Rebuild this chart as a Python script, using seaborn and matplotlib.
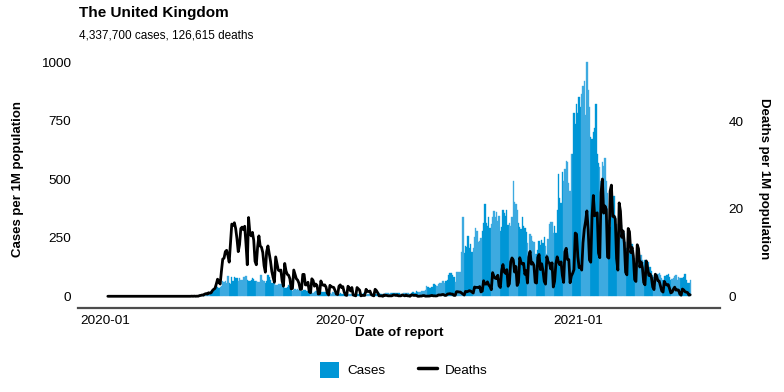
import numpy as np
import pandas as pd
import matplotlib
matplotlib.use("Agg")
import matplotlib.pyplot as plt
import matplotlib.dates as mdates
from matplotlib.patches import Patch
from matplotlib.lines import Line2D
import seaborn as sns

# ---------------- data (per 1M population, daily, by date of report) -------------
start_date = "2020-01-03"
title = "The United Kingdom"
subtitle = "4,337,700 cases, 126,615 deaths"
legend_labels = ["Cases", "Deaths"]
x_ticks = ["2020-01-01", "2020-07-01", "2021-01-01"]
y_ticks_cases = [0, 250, 500, 750, 1000]
y_ticks_deaths = [0, 20, 40]

cases_2020_jan = [0] * 28 + [0.03]
cases_2020_feb = [0, 0, 0, 0, 0, 0.01, 0, 0, 0, 0.06, 0.01, 0, 0.01, 0, 0, 0, 0, 0, 0, 0, 0, 0, 0,
                  0.06, 0, 0.03, 0.03, 0.07, 0.04]
cases_2020_mar = [0.18, 0.06, 0.16, 0.5, 0.43, 0.71, 0.66,
                  0.99, 0.71, 0.77, 1.22, 1.97, 3.06, 5.04,
                  3.7, 2.24, 5.99, 9.96, 9.47, 10.5, 15.2,
                  9.8, 14.2, 21.0, 21.4, 31.4, 42.5, 37.5,
                  35.8, 38.6, 44.3]
cases_2020_apr = [63.7, 62.5, 65.5, 55.0, 86.9, 56.0, 53.5,
                  80.9, 64.0, 84.0, 77.1, 77.9, 63.9, 77.4,
                  67.8, 68.0, 82.5, 81.4, 86.2, 68.9, 63.3,
                  65.6, 67.5, 79.3, 72.4, 65.7, 63.5, 58.9,
                  60.0, 88.8]
cases_2020_may = [91.3, 70.8, 63.9, 58.7, 64.9, 90.0, 82.7,
                  68.5, 57.4, 57.8, 57.1, 50.1, 47.7, 50.8,
                  52.4, 50.8, 52.0, 39.5, 35.5, 36.4, 38.5,
                  48.4, 43.6, 35.5, 23.9, 27.8, 29.6, 27.8,
                  30.9, 28.5, 28.5]
cases_2020_jun = [23.1, 24.3, 27.6, 26.6, 24.3, 22.9, 19.5,
                  17.7, 20.4, 14.8, 18.6, 22.7, 21.0, 22.3,
                  15.6, 18.8, 16.4, 17.9, 19.8, 19.1, 18.0,
                  14.1, 12.9, 9.6, 16.5, 20.3, 13.1, 13.3,
                  12.0, 10.1]
cases_2020_jul = [12.2, 8.5, 9.2, 9.0, 7.6, 5.2, 8.6,
                  9.2, 9.1, 9.5, 12.0, 9.5, 7.3, 8.8,
                  8.7, 9.6, 10.4, 10.5, 12.0, 8.1, 6.8,
                  8.9, 11.2, 11.2, 11.7, 11.4, 7.7, 11.6,
                  11.5, 12.2, 12.9]
cases_2020_aug = [11.1, 11.0, 10.7, 9.6, 13.2, 13.1, 12.7,
                  11.0, 12.0, 12.2, 15.3, 15.5, 12.8, 14.6,
                  15.7, 14.7, 10.7, 10.3, 11.9, 14.0, 14.8,
                  16.0, 14.8, 11.6, 13.0, 18.5, 17.9, 15.2,
                  21.3, 19.8, 16.9]
cases_2020_sep = [19.1, 21.2, 24.2, 23.5, 26.7, 43.4, 39.1,
                  37.3, 37.4, 41.4, 51.1, 51.5, 48.4, 43.5,
                  50.5, 58.8, 55.1, 63.7, 66.1, 57.4, 63.4,
                  70.2, 91.0, 97.7, 101.2, 89.0, 83.8, 59.6,
                  105.2, 104.7]
cases_2020_oct = [101.8, 102.6, 189.6, 338.2, 185.5, 214.2, 208.6,
                  258.3, 204.2, 223.4, 189.6, 205.8, 253.8, 290.5,
                  279.5, 230.5, 238.2, 250.1, 276.9, 314.2, 393.0,
                  312.8, 302.4, 338.9, 291.5, 307.7, 337.0, 363.8,
                  339.7, 359.4, 322.8]
cases_2020_nov = [342.5, 279.1, 294.8, 370.8, 355.5, 343.0, 367.6,
                  303.0, 314.4, 300.6, 338.0, 492.9, 402.1, 395.6,
                  367.6, 314.6, 295.3, 288.8, 337.5, 298.3, 292.7,
                  274.8, 227.5, 166.4, 268.2, 258.5, 236.0, 233.7,
                  179.0, 181.6]
cases_2020_dec = [197.8, 238.1, 219.1, 240.0, 228.8, 254.4, 216.8,
                  180.9, 244.2, 308.7, 319.2, 316.7, 271.7, 298.4,
                  271.7, 370.6, 521.1, 419.8, 398.4, 529.1, 491.4,
                  542.0, 577.9, 574.9, 482.0, 449.2, 609.5, 609.5,
                  782.5, 736.7, 823.1]
cases_2021_jan = [784.8, 850.1, 809.9, 865.7, 897.1, 917.9, 774.9,
                  1002.3, 882.7, 809.1, 680.0, 670.6, 699.9, 717.0,
                  821.2, 608.9, 568.5, 552.8, 491.2, 573.0, 558.1,
                  592.9, 494.1, 441.9, 326.9, 295.9, 372.7, 422.4,
                  428.3, 342.8, 310.6]
cases_2021_feb = [274.0, 248.0, 282.8, 303.9, 281.5, 269.0, 233.4,
                  207.7, 182.1, 191.6, 198.7, 223.0, 196.0, 161.6,
                  143.8, 156.5, 187.3, 177.6, 177.1, 153.3, 144.8,
                  156.7, 125.0, 146.4, 147.1, 125.5, 109.5, 88.9]
cases_2021_mar = [80.3, 94.1, 84.9, 96.8, 99.5, 89.0, 76.2,
                  69.4, 84.9, 87.3, 92.9, 97.3, 81.5, 68.0,
                  74.9, 78.0, 84.8, 92.8, 70.7, 82.3, 78.2,
                  78.7, 79.2, 82.5, 94.2, 69.4, 56.9, 56.9,
                  68.5]

deaths_2020_jan = [0] * 29
deaths_2020_feb = [0] * 29
deaths_2020_mar = [0, 0, 0, 0, 0.02, 0.01, 0,
                   0.03, 0, 0.04, 0, 0.03, 0.02, 0.15,
                   0.2, 0.3, 0.25, 0.5, 0.6, 0.5, 0.8,
                   0.7, 0.8, 1.3, 1.6, 1.8, 2.8, 3.9,
                   3.2, 2.8, 5.8]
deaths_2020_apr = [8.5, 8.7, 10.2, 10.5, 9.3, 7.8, 12.0,
                   16.5, 16.2, 16.8, 15.5, 13.2, 10.2, 11.8,
                   15.5, 15.8, 15.2, 16.0, 12.0, 7.2, 18.0,
                   14.5, 13.8, 14.6, 12.8, 8.0, 7.2, 11.3,
                   13.8, 11.5]
deaths_2020_may = [11.2, 10.0, 7.0, 5.5, 10.2, 11.5, 9.7,
                   8.0, 5.7, 4.3, 3.2, 9.0, 7.5, 6.0,
                   5.8, 6.0, 3.5, 2.3, 7.5, 5.8, 5.0,
                   4.8, 4.0, 1.7, 1.8, 6.0, 5.0, 4.0,
                   3.7, 3.0, 1.6]
deaths_2020_jun = [1.6, 5.0, 5.0, 2.6, 2.6, 3.2, 1.0,
                   0.8, 4.0, 3.6, 2.3, 2.8, 2.5, 0.5,
                   0.6, 3.5, 2.7, 2.5, 2.6, 2.1, 0.7,
                   0.3, 2.5, 2.2, 2.1, 2.0, 1.3, 0.5,
                   0.4, 2.3]
deaths_2020_jul = [2.6, 2.0, 2.2, 1.0, 0.3, 0.2, 2.3,
                   1.9, 1.2, 2.0, 0.3, 0.2, 0.1, 2.0,
                   1.7, 1.4, 0.1, 0.2, 0.2, 0.2, 1.6,
                   1.1, 1.1, 1.2, 0.4, 0.2, 0.1, 1.6,
                   1.3, 0.8, 0.1]
deaths_2020_aug = [0.1, 0.1, 0.0, 0.3, 0.2, 0.2, 0.1,
                   0.1, 0.1, 0.1, 0.3, 0.3, 0.2, 0.3,
                   0.1, 0.1, 0.1, 0.3, 0.2, 0.1, 0.3,
                   0.1, 0.1, 0.0, 0.3, 0.3, 0.2, 0.2,
                   0.2, 0.0, 0.0]
deaths_2020_sep = [0.05, 0.05, 0.15, 0.15, 0.03, 0.03, 0.03,
                   0.05, 0.12, 0.2, 0.1, 0.1, 0.07, 0.1,
                   0.3, 0.3, 0.3, 0.4, 0.4, 0.2, 0.2,
                   0.5, 0.55, 0.6, 0.5, 0.5, 0.2, 0.2,
                   1.05, 1.05]
deaths_2020_oct = [0.97, 0.97, 0.72, 0.49, 0.28, 1.12, 1.03,
                   1.13, 1.28, 1.19, 0.96, 0.74, 2.11, 2.02,
                   2.03, 2.0, 2.21, 0.99, 1.18, 3.55, 2.81,
                   2.78, 3.30, 2.56, 2.22, 1.50, 5.40, 4.57,
                   4.12, 4.04, 4.80]
deaths_2020_nov = [2.39, 2.0, 5.85, 7.25, 5.57, 5.23, 6.08,
                   2.30, 2.86, 7.84, 8.76, 8.29, 5.54, 6.80,
                   2.47, 3.14, 8.81, 7.79, 7.38, 7.53, 5.02,
                   5.86, 3.03, 8.95, 10.25, 7.33, 7.67, 7.05,
                   3.17, 3.02]
deaths_2020_dec = [8.88, 9.54, 6.10, 7.42, 5.85, 3.40, 2.78,
                   9.07, 7.85, 7.60, 6.24, 7.64, 2.12, 3.42,
                   7.45, 9.01, 7.84, 7.20, 7.86, 4.80, 3.17,
                   10.18, 10.96, 8.39, 8.39, 3.09, 4.65, 5.26,
                   6.10, 14.45, 14.20]
deaths_2021_jan = [9.03, 6.55, 6.69, 5.99, 12.22, 15.33, 17.11,
                   19.51, 15.24, 8.29, 7.79, 18.31, 23.03, 18.38,
                   18.85, 19.07, 9.88, 8.82, 23.71, 26.80, 19.00,
                   20.63, 19.85, 8.98, 8.72, 24.02, 25.40, 18.25,
                   18.34, 17.67, 8.65]
deaths_2021_feb = [5.98, 21.34, 19.47, 13.48, 14.93, 12.19, 5.49,
                   4.90, 15.49, 14.74, 9.99, 11.16, 9.15, 3.80,
                   3.39, 11.77, 10.87, 6.69, 7.85, 6.55, 3.17,
                   2.62, 8.07, 6.51, 4.76, 5.08, 4.27, 2.12]
deaths_2021_mar = [1.53, 5.05, 4.64, 3.56, 3.48, 2.33, 1.21,
                   0.96, 3.40, 2.80, 2.58, 2.67, 1.78, 0.77,
                   0.94, 1.62, 2.08, 1.40, 1.49, 1.41, 0.49,
                   0.25, 1.65, 1.44, 1.03, 0.93, 0.85, 0.28,
                   0.34]

cases = (cases_2020_jan + cases_2020_feb + cases_2020_mar + cases_2020_apr + cases_2020_may
         + cases_2020_jun + cases_2020_jul + cases_2020_aug + cases_2020_sep + cases_2020_oct
         + cases_2020_nov + cases_2020_dec + cases_2021_jan + cases_2021_feb + cases_2021_mar)
deaths = (deaths_2020_jan + deaths_2020_feb + deaths_2020_mar + deaths_2020_apr + deaths_2020_may
          + deaths_2020_jun + deaths_2020_jul + deaths_2020_aug + deaths_2020_sep + deaths_2020_oct
          + deaths_2020_nov + deaths_2020_dec + deaths_2021_jan + deaths_2021_feb + deaths_2021_mar)
assert len(cases) == len(deaths), (len(cases), len(deaths))

# ---------------- styling ----------------
COL_DARK = "#0096D6"
COL_LIGHT = "#3DAAE0"

sns.set_theme(style="white")
plt.rcParams["font.family"] = ["Liberation Sans", "DejaVu Sans"]
plt.rcParams["text.color"] = "black"
plt.rcParams["axes.labelcolor"] = "black"
plt.rcParams["xtick.color"] = "black"
plt.rcParams["ytick.color"] = "black"

dates = pd.date_range(start_date, periods=len(cases), freq="D")
df = pd.DataFrame({
    "date": mdates.date2num(dates),
    "cases": cases,
    "deaths": deaths,
})
monday0 = pd.Timestamp("2019-12-30")
df["week"] = (((dates - monday0).days // 7) % 2).astype(str)

fig = plt.figure(figsize=(7.84, 3.92), dpi=100)
ax = fig.add_axes([78 / 784, 84 / 392, 642 / 784, 258 / 392])

sns.barplot(data=df, x="date", y="cases", hue="week", palette={"0": COL_DARK, "1": COL_LIGHT},
            native_scale=True, width=1.0, dodge=False, errorbar=None, legend=False,
            saturation=1, linewidth=0, ax=ax)
for p in ax.patches:
    p.set_edgecolor(p.get_facecolor())
    p.set_linewidth(0.25)

ax2 = ax.twinx()
sns.lineplot(x=df["date"], y=df["deaths"], color="black", linewidth=2.0, ax=ax2)

# scales
cmax = max(cases)
dmax = max(deaths)
ratio = cmax / dmax / 2.0
x0, x1 = df["date"].min() - 0.5, df["date"].max() + 0.5
span = x1 - x0
ax.set_xlim(x0 - 0.05 * span, x1 + 0.05 * span)
ylo, yhi = -0.05 * cmax, cmax * 1.05
ax.set_ylim(ylo, yhi)
ax2.set_ylim(ylo / ratio, yhi / ratio)

ax.set_xticks(mdates.date2num(pd.to_datetime(x_ticks)))
ax.xaxis.set_major_formatter(mdates.DateFormatter("%Y-%m"))
ax.set_yticks(y_ticks_cases)
ax2.set_yticks(y_ticks_deaths)

for a in (ax, ax2):
    for s in a.spines.values():
        s.set_visible(False)
ax.spines["bottom"].set_visible(True)
ax.spines["bottom"].set_color("#4d4d4d")
ax.spines["bottom"].set_linewidth(1.6)

ax.tick_params(axis="both", length=0, labelsize=9.7, colors="black")
ax.tick_params(axis="x", pad=5)
ax.tick_params(axis="y", pad=5)
ax2.tick_params(axis="y", length=0, labelsize=9.7, pad=6, colors="black")
ax.grid(False)
ax2.grid(False)

ax.set_xlabel("Date of report", fontsize=9.7, fontweight="bold", labelpad=0)
ax.set_ylabel("Cases per 1M population", fontsize=9.5, fontweight="bold", labelpad=12)
ax2.set_ylabel("Deaths per 1M population", fontsize=9.5, fontweight="bold", rotation=270,
               labelpad=19)

fig.text(79 / 784, 1 - 13 / 392, title, fontsize=11, fontweight="bold", va="center", ha="left")
fig.text(79 / 784, 1 - 36 / 392, subtitle, fontsize=8.5, va="center", ha="left")

handles = [Patch(facecolor=COL_DARK, edgecolor="none"),
           Line2D([0], [0], color="black", linewidth=2.5)]
fig.legend(handles, legend_labels, loc="center", bbox_to_anchor=(404 / 784, 1 - 370 / 392),
           ncol=2, frameon=False, fontsize=9.7, handlelength=1.4, handleheight=1.4,
           columnspacing=2.4, handletextpad=0.6)

fig.savefig("out.png", dpi=100)
